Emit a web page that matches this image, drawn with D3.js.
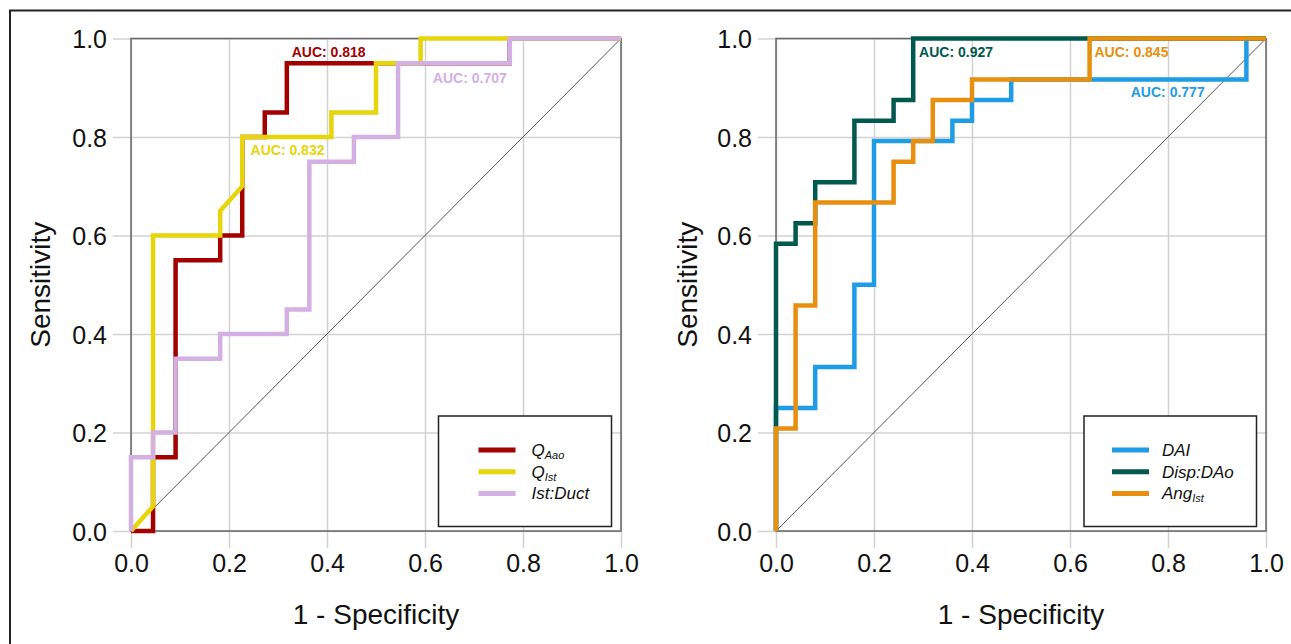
<!DOCTYPE html>
<html>
<head>
<meta charset="utf-8">
<script src="https://cdn.jsdelivr.net/npm/d3@7"></script>
<style>
  body { margin: 0; background: #fff; }
  text { font-family: "Liberation Sans", Arial, Helvetica, sans-serif; }
</style>
</head>
<body>
<div class="roc"></div>
<script>
  // tick labels shared by both panels
  var tickValues = [0, 0.2, 0.4, 0.6, 0.8, 1.0];

  // left panel: Q_Aao, Q_Ist, Ist:Duct
  var qAaoFpr = [0, 0.045, 0.045, 0.091, 0.091, 0.182, 0.182, 0.227, 0.227, 0.273, 0.273, 0.318, 0.318, 0.773, 0.773, 1];
  var qAaoTpr = [0, 0, 0.15, 0.15, 0.55, 0.55, 0.6, 0.6, 0.8, 0.8, 0.85, 0.85, 0.95, 0.95, 1, 1];

  var qIstFpr = [0, 0.045, 0.045, 0.182, 0.182, 0.227, 0.227, 0.409, 0.409, 0.5, 0.5, 0.591, 0.591, 1];
  var qIstTpr = [0, 0.05, 0.6, 0.6, 0.65, 0.7, 0.8, 0.8, 0.85, 0.85, 0.95, 0.95, 1, 1];

  var istDuctFpr = [0, 0, 0.045, 0.045, 0.091, 0.091, 0.182, 0.182, 0.318, 0.318, 0.364, 0.364, 0.455, 0.455, 0.545, 0.545, 0.773, 0.773, 1];
  var istDuctTpr = [0, 0.15, 0.15, 0.2, 0.2, 0.35, 0.35, 0.4, 0.4, 0.45, 0.45, 0.75, 0.75, 0.8, 0.8, 0.95, 0.95, 1, 1];

  // right panel: DAI, Disp:DAo, Ang_Ist
  var daiFpr = [0, 0, 0.08, 0.08, 0.16, 0.16, 0.2, 0.2, 0.36, 0.36, 0.4, 0.4, 0.48, 0.48, 0.96, 0.96, 1];
  var daiTpr = [0, 0.25, 0.25, 0.333, 0.333, 0.5, 0.5, 0.792, 0.792, 0.833, 0.833, 0.875, 0.875, 0.917, 0.917, 1, 1];

  var dispFpr = [0, 0, 0.04, 0.04, 0.08, 0.08, 0.16, 0.16, 0.24, 0.24, 0.28, 0.28, 1];
  var dispTpr = [0, 0.583, 0.583, 0.625, 0.625, 0.708, 0.708, 0.833, 0.833, 0.875, 0.875, 1, 1];

  var angFpr = [0, 0, 0.04, 0.04, 0.08, 0.08, 0.24, 0.24, 0.28, 0.28, 0.32, 0.32, 0.4, 0.4, 0.64, 0.64, 1];
  var angTpr = [0, 0.208, 0.208, 0.458, 0.458, 0.667, 0.667, 0.75, 0.75, 0.792, 0.792, 0.875, 0.875, 0.917, 0.917, 1, 1];

  var aucLeft = ["0.818", "0.832", "0.707"];
  var aucRight = ["0.777", "0.927", "0.845"];

  function zip(xs, ys) {
    return xs.map(function (x, i) { return {x: x, y: ys[i]}; });
  }

  // series are listed in drawing order (last on top), legend order is the same
  var panels = [
    {
      left: 131, top: 38.5, width: 490, height: 492.5, ylabelX: 50,
      legend: {x: 438.5, y: 416, w: 173, h: 110.5, lineX: 40, textX: 93},
      series: [
        {name: "Q", sub: "Aao", color: "#a30000", pts: zip(qAaoFpr, qAaoTpr), auc: aucLeft[0], lab: [0.328, 0.962]},
        {name: "Q", sub: "Ist", color: "#e5d50a", pts: zip(qIstFpr, qIstTpr), auc: aucLeft[1], lab: [0.244, 0.764]},
        {name: "Ist:Duct", sub: "", color: "#d4afe3", pts: zip(istDuctFpr, istDuctTpr), auc: aucLeft[2], lab: [0.616, 0.909]}
      ]
    },
    {
      left: 776, top: 38.5, width: 490, height: 492.5, ylabelX: 697,
      legend: {x: 1084, y: 416, w: 172.5, h: 110.5, lineX: 28, textX: 78},
      series: [
        {name: "DAI", sub: "", color: "#1f9ce6", pts: zip(daiFpr, daiTpr), auc: aucRight[0], lab: [0.724, 0.882]},
        {name: "Disp:DAo", sub: "", color: "#00594f", pts: zip(dispFpr, dispTpr), auc: aucRight[1], lab: [0.292, 0.962]},
        {name: "Ang", sub: "Ist", color: "#e88f0e", pts: zip(angFpr, angTpr), auc: aucRight[2], lab: [0.65, 0.962]}
      ]
    }
  ];

  var svg = d3.select('.roc')
      .append("svg")
      .attr("width", 1291)
      .attr("height", 644);

  // outer frame of the figure
  svg.append("rect")
      .attr("x", 10).attr("y", 10.5)
      .attr("width", 1400).attr("height", 800)
      .attr("fill", "none")
      .attr("stroke", "#222")
      .attr("stroke-width", 2);

  panels.forEach(function (p) {
    var x = d3.scaleLinear().domain([0, 1]).range([0, p.width]);
    var y = d3.scaleLinear().domain([0, 1]).range([p.height, 0]);

    var g = svg.append("g")
        .attr("transform", "translate(" + p.left + "," + p.top + ")");

    // grid lines run past the frame to form the ticks
    var xAxis = d3.axisBottom(x)
        .tickValues(tickValues)
        .tickSize(-p.height - 17)
        .tickPadding(31)
        .tickFormat(d3.format(".1f"));

    var yAxis = d3.axisLeft(y)
        .tickValues(tickValues)
        .tickSize(-p.width - 18)
        .tickPadding(6)
        .tickFormat(d3.format(".1f"));

    var gx = g.append("g")
        .attr("class", "x axis")
        .attr("transform", "translate(0," + (p.height + 17) + ")")
        .call(xAxis);
    gx.select(".domain").remove();
    gx.selectAll("line").attr("stroke", "#d2d2d2").attr("stroke-width", 1.5);
    gx.selectAll("text")
        .attr("font-size", 25)
        .attr("fill", "#111")
        .attr("dy", "0.71em")
        .attr("y", 6);

    var gy = g.append("g")
        .attr("class", "y axis")
        .attr("transform", "translate(-18,0)")
        .call(yAxis);
    gy.select(".domain").remove();
    gy.selectAll("line").attr("stroke", "#d2d2d2").attr("stroke-width", 1.5);
    gy.selectAll("text")
        .attr("font-size", 25)
        .attr("fill", "#111")
        .attr("dy", "0.36em");

    // plot frame
    g.append("rect")
        .attr("width", p.width)
        .attr("height", p.height)
        .attr("fill", "none")
        .attr("stroke", "#666")
        .attr("stroke-width", 1.5);

    // chance line
    g.append("line")
        .attr("x1", x(0)).attr("y1", y(0))
        .attr("x2", x(1)).attr("y2", y(1))
        .attr("stroke", "#555")
        .attr("stroke-width", 1);

    var line = d3.line()
        .x(function (d) { return x(d.x); })
        .y(function (d) { return y(d.y); });

    g.selectAll(".roc-line")
        .data(p.series)
        .enter().append("path")
        .attr("class", "roc-line")
        .attr("d", function (d) { return line(d.pts); })
        .attr("fill", "none")
        .attr("stroke", function (d) { return d.color; })
        .attr("stroke-width", 4.5)
        .attr("stroke-linejoin", "miter");

    g.selectAll(".auc")
        .data(p.series)
        .enter().append("text")
        .attr("class", "auc")
        .attr("x", function (d) { return x(d.lab[0]); })
        .attr("y", function (d) { return y(d.lab[1]); })
        .attr("font-size", 14)
        .attr("font-weight", "bold")
        .attr("fill", function (d) { return d.color; })
        .text(function (d) { return "AUC: " + d.auc; });

    // axis titles
    g.append("text")
        .attr("x", p.width / 2)
        .attr("y", 624 - p.top)
        .attr("text-anchor", "middle")
        .attr("font-size", 28)
        .attr("fill", "#111")
        .text("1 - Specificity");

    svg.append("text")
        .attr("transform", "translate(" + p.ylabelX + "," + (p.top + p.height / 2) + ") rotate(-90)")
        .attr("text-anchor", "middle")
        .attr("font-size", 28)
        .attr("fill", "#111")
        .text("Sensitivity");

    // legend
    var L = p.legend;
    var lg = svg.append("g")
        .attr("transform", "translate(" + L.x + "," + L.y + ")");
    lg.append("rect")
        .attr("width", L.w)
        .attr("height", L.h)
        .attr("fill", "#fff")
        .attr("stroke", "#222")
        .attr("stroke-width", 1.5);

    var rows = lg.selectAll(".row")
        .data(p.series)
        .enter().append("g")
        .attr("class", "row")
        .attr("transform", function (d, i) { return "translate(0," + (34 + i * 21.7) + ")"; });

    rows.append("line")
        .attr("x1", L.lineX).attr("x2", L.lineX + 37)
        .attr("stroke", function (d) { return d.color; })
        .attr("stroke-width", 5);

    var label = rows.append("text")
        .attr("x", L.textX)
        .attr("y", 6)
        .attr("font-size", 17)
        .attr("font-style", "italic")
        .attr("fill", "#111");
    label.append("tspan").text(function (d) { return d.name; });
    label.append("tspan")
        .attr("font-size", 11)
        .attr("dy", 3)
        .text(function (d) { return d.sub; });
  });
</script>
</body>
</html>
